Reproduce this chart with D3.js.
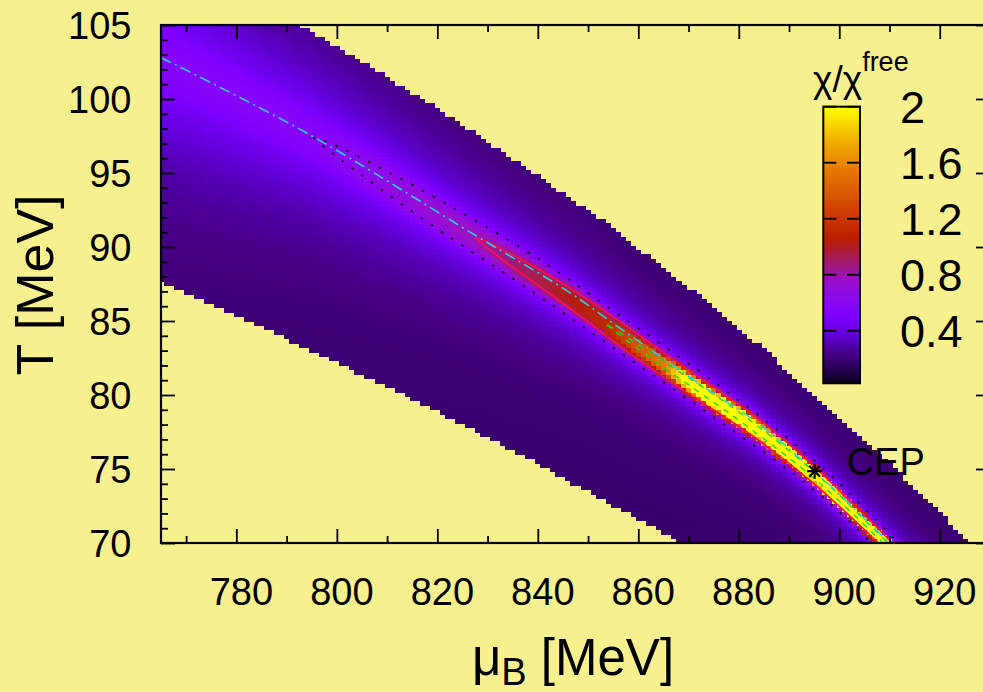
<!DOCTYPE html>
<html>
<head>
<meta charset="utf-8">
<script src="https://cdn.jsdelivr.net/npm/d3@7"></script>
<style>
  body { margin: 0; background: #f7f08f; }
</style>
</head>
<body>
<svg id="chart"></svg>
<script>
// ---- values (mu_B and T in MeV) ----

// dash-dot crossover line
const ridgeMu = [765, 794, 828, 846, 856, 875, 883, 895.1, 910, 930];
const ridgeT = [102.8, 97.7, 90.7, 87.0, 84.6, 80.1, 78.3, 74.85, 70.0, 63.3];

// the chi maximum sits a little below the dash-dot line
const shiftMu = [765, 800, 828, 856, 883, 895, 930];
const shiftT = [0, 0, 0.15, 0.4, 0.4, 0.3, 0.2];

// chi/chi_free across the ridge: sharp peak + broad glow on a base level
const fieldMu = [765, 796, 828, 853, 865, 880, 895, 910, 930];
const peakA = [0.03, 0.06, 0.3, 0.65, 1.1, 3.0, 3.6, 3.4, 3.0];
const peakW = [2.0, 1.6, 1.1, 0.9, 0.75, 0.55, 0.45, 0.38, 0.32];
const glowA = [0.36, 0.34, 0.31, 0.29, 0.28, 0.28, 0.28, 0.28, 0.28];
const glowW = [5.5, 4.2, 3.1, 2.5, 2.2, 1.9, 1.7, 1.6, 1.5];
const chiBase = 0.17;

// edges of the computed region
const upperT = [105, 99.9, 98.8, 91.0, 89.8, 86.4, 83.3, 77.0, 70.2];
const upperMu = [792.7, 817.6, 822.5, 856.3, 860.3, 873.2, 884.2, 905.0, 925.4];
const lowerMu = [765, 781.3, 800, 820, 840, 852.4, 867.7];
const lowerT = [87.6, 85.2, 82.2, 78.9, 75.4, 73.0, 70.2];

// half widths (in T) of the contour lines around the chi maximum
const dottedMu = [795.5, 800, 806, 819, 840, 856, 875, 895, 910, 935];
const dottedHW = [0, 0.35, 0.62, 1.0, 1.25, 1.24, 1.2, 1.0, 0.9, 0.8];
const redMu = [827.7, 832, 840, 850, 857, 870, 883, 895, 910, 935];
const redHW = [0, 0.3, 0.55, 0.75, 0.84, 0.8, 0.72, 0.58, 0.46, 0.4];
const greenMu = [853.4, 858, 865, 880, 895, 910, 935];
const greenHW = [0, 0.12, 0.2, 0.28, 0.22, 0.16, 0.12];

const cep = { mu: 895.1, T: 74.85, label: "CEP" };

// palette of the colour box
const paletteV = [0, 0.05, 0.14, 0.22, 0.3, 0.38, 0.5, 0.62, 0.76, 0.86, 0.93, 1.05, 1.24, 1.43, 1.62, 1.81, 2.0];
const paletteC = ["#000000", "#12002a", "#2c005a", "#44007e", "#5200b0", "#6400dc", "#7e00ff", "#8c08f0", "#9a10c8",
                  "#a01880", "#a81c50", "#b81e00", "#cc3c00", "#dc6200", "#ea8a00", "#f4c000", "#ffff00"];
const cbTicks = [0.4, 0.8, 1.2, 1.6, 2];
const cbRange = [0.025, 2];

const xTicks = [780, 800, 820, 840, 860, 880, 900, 920];
const xMinor = [770, 790, 810, 830, 850, 870, 890, 910, 930];
const yTicks = [70, 75, 80, 85, 90, 95, 100, 105];
const yMinor = d3.range(71, 105).filter(t => t % 5 !== 0);

// ---- drawing ----
const W = 983, H = 692;
const FONT = "'Liberation Sans', Arial, Helvetica, sans-serif";

const svg = d3.select("#chart")
    .attr("width", W)
    .attr("height", H)
    .style("font-family", FONT);

const x = d3.scaleLinear().domain([765, 930]).range([161, 990]);
const y = d3.scaleLinear().domain([70, 105]).range([543, 25]);
const colour = d3.scaleLinear().domain(paletteV).range(paletteC).clamp(true);

const ridge = d3.scaleLinear(ridgeMu, ridgeT);
const shift = d3.scaleLinear(shiftMu, shiftT).clamp(true);
const centre = mu => ridge(mu) - shift(mu);
const fA = d3.scaleLinear(fieldMu, peakA).clamp(true);
const fW = d3.scaleLinear(fieldMu, peakW).clamp(true);
const gA = d3.scaleLinear(fieldMu, glowA).clamp(true);
const gW = d3.scaleLinear(fieldMu, glowW).clamp(true);
const upperEdge = d3.scaleLinear(upperT, upperMu);
const lowerEdge = d3.scaleLinear(lowerMu, lowerT);

function chi(mu, T) {
    const d = T - centre(mu);
    const a = d / fW(mu), b = d / gW(mu);
    return chiBase + fA(mu) / (1 + a * a * a * a) + gA(mu) / (1 + b * b);
}

// grid of cells, 1 MeV x 0.3 MeV
const cells = [];
for (let i = 0; i <= 165; i++) {
    const mu = 765 + i;
    for (let k = 0; k < 117; k++) {
        const T = 70.15 + 0.3 * k;
        if (T < lowerEdge(mu) || mu > upperEdge(T)) continue;
        cells.push({ mu: mu, T: T, v: chi(mu, T) });
    }
}

const plotBottom = y(70), plotTop = y(105), plotLeft = x(765), plotRight = x(930);

const defs = svg.append("defs");
defs.append("clipPath").attr("id", "plotclip")
    .append("rect")
    .attr("x", plotLeft).attr("y", plotTop)
    .attr("width", plotRight - plotLeft).attr("height", plotBottom - plotTop);

const plot = svg.append("g").attr("clip-path", "url(#plotclip)");

const cw = x(766) - x(765), ch = y(70) - y(70.3);
plot.append("g")
    .attr("shape-rendering", "crispEdges")
    .selectAll("rect")
    .data(cells)
    .join("rect")
    .attr("x", d => x(d.mu - 0.5))
    .attr("y", d => y(d.T + 0.15))
    .attr("width", cw + 0.5)
    .attr("height", ch + 0.5)
    .attr("fill", d => colour(d.v));

// lines around the maximum: up one side, round the tip, back down the other
function loop(muArr, hwArr) {
    const up = muArr.map((m, i) => [m, centre(m) + hwArr[i]]);
    const lo = muArr.map((m, i) => [m, centre(m) - hwArr[i]]);
    return up.slice().reverse().concat(lo.slice(1));
}
const line = d3.line()
    .x(d => x(d[0]))
    .y(d => y(d[1]))
    .curve(d3.curveCatmullRom.alpha(0.5));

plot.append("path")
    .attr("d", line(loop(dottedMu, dottedHW)))
    .attr("fill", "none").attr("stroke", "#000")
    .attr("stroke-width", 1.7).attr("stroke-dasharray", "2.2,10");

plot.append("path")
    .attr("d", line(loop(redMu, redHW)))
    .attr("fill", "none").attr("stroke", "#ff1040")
    .attr("stroke-width", 1.6);

plot.append("path")
    .attr("d", line(loop(greenMu, greenHW)))
    .attr("fill", "none").attr("stroke", "#12dc12")
    .attr("stroke-width", 1.3).attr("stroke-dasharray", "6,6");

plot.append("path")
    .attr("d", line(ridgeMu.map((m, i) => [m, ridgeT[i]])))
    .attr("fill", "none").attr("stroke", "#2ad4e4")
    .attr("stroke-width", 1.6).attr("stroke-dasharray", "11,4.5,2,4.5");

// CEP star
const cx = x(cep.mu), cy = y(cep.T);
plot.append("path")
    .attr("d", `M${cx - 7.5},${cy}L${cx + 7.5},${cy}M${cx},${cy - 7.5}L${cx},${cy + 7.5}` +
               `M${cx - 5.5},${cy - 5.5}L${cx + 5.5},${cy + 5.5}M${cx - 5.5},${cy + 5.5}L${cx + 5.5},${cy - 5.5}`)
    .attr("stroke", "#000").attr("stroke-width", 2.2);
svg.append("text")
    .attr("x", cx + 32).attr("y", cy + 4)
    .attr("font-size", "38px")
    .text(cep.label);

// axes, ticks pointing inwards on all four sides
function styleAxis(g) {
    g.select(".domain").remove();
    g.selectAll("line").attr("stroke", "#000").attr("stroke-width", 1.8);
    g.attr("font-family", FONT);
}

svg.append("g").attr("transform", `translate(0,${plotBottom})`)
    .call(d3.axisBottom(x).tickValues(xMinor).tickSize(-7).tickFormat(""))
    .call(styleAxis);
svg.append("g").attr("transform", `translate(0,${plotTop})`)
    .call(d3.axisTop(x).tickValues(xMinor).tickSize(-7).tickFormat(""))
    .call(styleAxis);
svg.append("g").attr("transform", `translate(0,${plotTop})`)
    .call(d3.axisTop(x).tickValues(xTicks).tickSize(-14).tickFormat(""))
    .call(styleAxis);
const gx = svg.append("g").attr("transform", `translate(0,${plotBottom})`)
    .call(d3.axisBottom(x).tickValues(xTicks).tickSize(-14).tickFormat(d3.format("d")))
    .call(styleAxis);
gx.selectAll("text")
    .attr("y", 62).attr("dy", null).attr("x", 4.5)
    .attr("fill", "#000").attr("font-size", "38px");

svg.append("g").attr("transform", `translate(${plotLeft},0)`)
    .call(d3.axisLeft(y).tickValues(yMinor).tickSize(-7).tickFormat(""))
    .call(styleAxis);
svg.append("g").attr("transform", `translate(${plotRight},0)`)
    .call(d3.axisRight(y).tickValues(yMinor).tickSize(-7).tickFormat(""))
    .call(styleAxis);
svg.append("g").attr("transform", `translate(${plotRight},0)`)
    .call(d3.axisRight(y).tickValues(yTicks).tickSize(-14).tickFormat(""))
    .call(styleAxis);
const gy = svg.append("g").attr("transform", `translate(${plotLeft},0)`)
    .call(d3.axisLeft(y).tickValues(yTicks).tickSize(-14).tickFormat(d3.format("d")))
    .call(styleAxis);
gy.selectAll("text")
    .attr("x", -29.5).attr("dy", "0.35em")
    .attr("fill", "#000").attr("font-size", "38px");

svg.append("rect")
    .attr("x", plotLeft).attr("y", plotTop)
    .attr("width", plotRight - plotLeft).attr("height", plotBottom - plotTop)
    .attr("fill", "none").attr("stroke", "#000").attr("stroke-width", 2.2);

// axis titles
const xl = svg.append("text")
    .attr("x", 573).attr("y", 675)
    .attr("text-anchor", "middle")
    .attr("font-size", "51px");
xl.append("tspan").text("μ");
xl.append("tspan").attr("font-size", "38px").attr("dy", 10).text("B");
xl.append("tspan").attr("dy", -10).text(" [MeV]");

svg.append("text")
    .attr("transform", "translate(53,285) rotate(-90)")
    .attr("text-anchor", "middle")
    .attr("font-size", "52px")
    .text("T [MeV]");

// colour box
const cb = d3.scaleLinear().domain(cbRange).range([383.3, 106.7]);
const cbX0 = 823.3, cbX1 = 860;
const grad = defs.append("linearGradient").attr("id", "cbgrad")
    .attr("x1", 0).attr("y1", 1).attr("x2", 0).attr("y2", 0);
const stops = d3.range(0, 41).map(i => cbRange[0] + (cbRange[1] - cbRange[0]) * i / 40);
grad.selectAll("stop").data(stops).join("stop")
    .attr("offset", d => (d - cbRange[0]) / (cbRange[1] - cbRange[0]))
    .attr("stop-color", d => colour(d));

svg.append("rect")
    .attr("x", cbX0).attr("y", cb(cbRange[1]))
    .attr("width", cbX1 - cbX0).attr("height", cb(cbRange[0]) - cb(cbRange[1]))
    .attr("fill", "url(#cbgrad)");

const cbt = svg.append("g");
cbt.selectAll("line.l").data(cbTicks).join("line")
    .attr("class", "l")
    .attr("x1", cbX0).attr("x2", cbX0 + 13)
    .attr("y1", d => cb(d)).attr("y2", d => cb(d))
    .attr("stroke", "#000").attr("stroke-width", 1.8);
cbt.selectAll("line.r").data(cbTicks).join("line")
    .attr("class", "r")
    .attr("x1", cbX1 - 13).attr("x2", cbX1)
    .attr("y1", d => cb(d)).attr("y2", d => cb(d))
    .attr("stroke", "#000").attr("stroke-width", 1.8);
cbt.selectAll("text").data(cbTicks).join("text")
    .attr("x", 900).attr("y", d => cb(d) + 16)
    .attr("font-size", "45px")
    .text(d => d3.format("")(d));

svg.append("rect")
    .attr("x", cbX0).attr("y", cb(cbRange[1]))
    .attr("width", cbX1 - cbX0).attr("height", cb(cbRange[0]) - cb(cbRange[1]))
    .attr("fill", "none").attr("stroke", "#000").attr("stroke-width", 2);

const cbTitle = svg.append("text")
    .attr("x", 813).attr("y", 92)
    .attr("font-size", "37px");
cbTitle.append("tspan").text("χ/χ");
cbTitle.append("tspan").attr("font-size", "27px").attr("dy", -21).text("free");
</script>
</body>
</html>
